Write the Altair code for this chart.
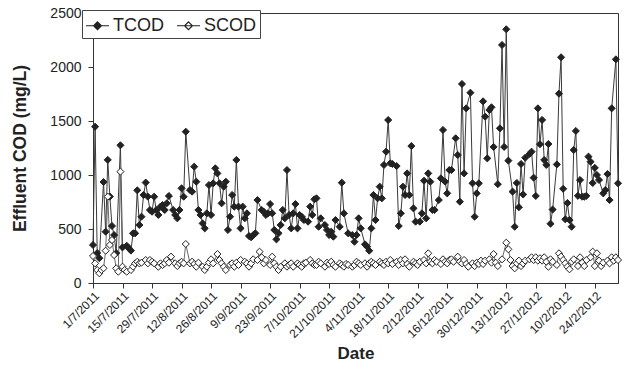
import altair as alt
import pandas as pd

start_date = "2011-07-01"

tcod_day = [0, 1, 2, 3, 5, 6, 7, 8, 9, 10, 11, 13, 14, 16, 17, 18, 19, 20, 21, 22, 23, 24, 25, 26, 27, 28,
            29, 30, 31, 32, 33, 34, 35, 36, 38, 39, 40, 41, 42, 43, 44, 46, 47, 48, 49, 50, 51, 52, 53, 54,
            55, 56, 57, 58, 59, 60, 61, 62, 63, 64, 65, 66, 67, 68, 69, 70, 71, 72, 73, 74, 75, 76, 77, 78,
            80, 81, 82, 83, 84, 85, 86, 87, 88, 89, 90, 91, 92, 93, 94, 95, 96, 97, 98, 99, 100, 102, 103,
            104, 105, 106, 107, 108, 110, 111, 112, 113, 114, 115, 117, 118, 119, 121, 123, 124, 125, 126,
            127, 129, 130, 131, 132, 133, 134, 135, 136, 137, 138, 139, 140, 141, 142, 144, 145, 146, 147,
            148, 149, 150, 151, 152, 153, 155, 156, 157, 158, 159, 160, 161, 162, 164, 165, 166, 167, 168,
            169, 170, 172, 173, 174, 175, 176, 177, 179, 180, 181, 182, 183, 185, 186, 187, 188, 189, 190,
            192, 193, 194, 195, 196, 197, 199, 200, 201, 202, 203, 204, 205, 207, 208, 209, 210, 211, 212,
            213, 214, 215, 216, 217, 218, 220, 221, 222, 223, 224, 225, 226, 227, 228, 229, 230, 231, 232,
            233, 234, 235, 236, 237, 238, 239, 240, 242, 243, 244, 245, 246, 248, 249]
tcod_val = [352, 1447, 277, 230, 935, 475, 1140, 800, 528, 444, 277, 1275, 330, 345, 321, 300, 460, 460, 858, 537, 614, 815, 930, 800, 676, 660,
            799, 676, 630, 707, 722, 676, 738, 806, 676, 630, 599, 676, 877, 799, 1401, 861, 846, 1077, 938, 676, 630, 552, 506, 645,
            907, 630, 923, 1062, 1015, 923, 738, 892, 938, 491, 614, 815, 707, 1139, 707, 506, 707, 599, 645, 435, 423, 444, 460, 768,
            676, 660, 630, 645, 731, 645, 491, 404, 460, 537, 676, 599, 1046, 630, 506, 645, 731, 506, 630, 614, 583, 568, 707,
            630, 775, 784, 521, 599, 537, 491, 444, 475, 429, 583, 521, 929, 645, 460, 444, 382, 444, 599,
            506, 358, 336, 299, 506, 815, 583, 784, 892, 784, 1093, 1216, 1509, 1108, 1102, 1083, 528, 645, 892,
            815, 1015, 815, 1268, 691, 568, 568, 645, 947, 599, 1015, 938, 676, 676, 768, 969, 1417, 938, 830,
            1046, 1046, 1340, 1185, 753, 1843, 1015, 1617, 1762, 923, 614, 830, 923, 1682, 1540, 1154, 1602, 1627, 1260,
            915, 1432, 2204, 1260, 2349, 1133, 846, 521, 926, 702, 1102, 820, 1160, 1194, 1216, 975, 806, 1617, 1285,
            1510, 1139, 1093, 1287, 549, 680, 1098, 1753, 2090, 872, 590, 741, 583, 521, 1231, 1408, 807, 954, 799,
            799, 807, 1170, 1123, 926, 1066, 1000, 954, 830, 861, 1009, 768, 1617, 2071, 923]

scod_day = [0, 1, 2, 3, 4, 5, 6, 7, 8, 9, 10, 11, 12, 13, 14, 15, 16, 18, 19, 20, 21, 22, 23, 25, 26, 27, 28,
            29, 31, 32, 33, 34, 35, 36, 37, 39, 40, 41, 42, 43, 44, 46, 47, 48, 49, 50, 52, 53, 54, 55, 56,
            57, 59, 60, 61, 62, 63, 65, 66, 67, 68, 69, 70, 72, 73, 74, 75, 76, 78, 79, 80, 81, 82, 84, 85,
            86, 87, 88, 89, 91, 92, 93, 94, 95, 97, 98, 99, 100, 101, 103, 104, 105, 106, 107, 108, 110, 111,
            112, 113, 114, 115, 117, 118, 119, 120, 121, 123, 124, 125, 126, 127, 129, 130, 131, 132, 133, 134,
            136, 137, 138, 139, 140, 141, 142, 144, 145, 146, 147, 148, 149, 150, 152, 153, 154, 155, 157, 158,
            159, 160, 161, 162, 163, 165, 166, 167, 168, 169, 170, 171, 173, 174, 175, 176, 177, 178, 180, 181,
            182, 183, 184, 185, 186, 188, 189, 190, 191, 192, 194, 196, 197, 198, 199, 200, 201, 202, 203, 204,
            205, 207, 208, 209, 210, 211, 212, 213, 214, 215, 216, 217, 218, 220, 221, 222, 223, 224, 225, 226,
            227, 228, 230, 231, 232, 233, 234, 236, 237, 238, 239, 240, 241, 242, 244, 245, 246, 247, 248, 249]
scod_val = [250, 182, 120, 90, 120, 136, 299, 800, 352, 398, 259, 136, 105, 1031, 151, 120, 105, 120, 151, 182, 197, 182, 188, 213, 182, 213, 197,
            182, 151, 182, 167, 182, 213, 188, 244, 182, 157, 182, 197, 182, 361, 182, 197, 176, 151, 188, 151, 120, 151, 188, 219,
            182, 268, 213, 182, 151, 120, 167, 182, 151, 188, 167, 213, 197, 182, 151, 182, 219, 213, 290, 238, 182, 213, 167, 244,
            182, 151, 120, 151, 182, 151, 167, 182, 151, 182, 167, 151, 182, 188, 213, 182, 167, 167, 197, 182, 151, 188,
            176, 197, 167, 151, 182, 167, 151, 176, 167, 151, 167, 197, 182, 167, 182, 151, 182, 197, 182, 167,
            197, 182, 167, 197, 182, 213, 176, 197, 167, 213, 182, 219, 176, 151, 197, 182, 167, 197, 213, 182,
            275, 197, 182, 213, 197, 176, 219, 197, 182, 213, 219, 197, 244, 197, 182, 213, 176, 151, 182, 157,
            188, 176, 207, 176, 207, 219, 188, 268, 188, 157, 219, 373, 312, 213, 157, 136, 182, 207, 157, 182,
            207, 219, 238, 213, 238, 207, 229, 207, 238, 197, 151, 219, 197, 167, 275, 244, 213, 182, 151, 127,
            197, 219, 157, 238, 188, 157, 213, 238, 290, 157, 275, 207, 157, 188, 207, 182, 238, 207, 238, 213]

series_names = ["TCOD", "SCOD"]
tick_dates = ["2011-07-01", "2011-07-15", "2011-07-29", "2011-08-12", "2011-08-26", "2011-09-09",
              "2011-09-23", "2011-10-07", "2011-10-21", "2011-11-04", "2011-11-18", "2011-12-02",
              "2011-12-16", "2011-12-30", "2012-01-13", "2012-01-27", "2012-02-10", "2012-02-24"]
domain_dates = ["2011-07-01", "2012-03-06"]
y_ticks = [0, 500, 1000, 1500, 2000, 2500]

t0 = pd.Timestamp(start_date)


def frame(days, vals, name, order):
    return pd.DataFrame({
        "date": [(t0 + pd.Timedelta(days=d)).strftime("%Y-%m-%d") for d in days],
        "value": vals,
        "series": name,
        "order": order,
    })


df = pd.concat([frame(tcod_day, tcod_val, "TCOD", 0), frame(scod_day, scod_val, "SCOD", 1)],
               ignore_index=True)


def dt(s):
    t = pd.Timestamp(s)
    return alt.DateTime(year=t.year, month=t.month, date=t.day, utc=True)


FONT = "Liberation Sans"
INK = "#222222"

x_enc = alt.X(
    "date:T",
    scale=alt.Scale(type="utc", domain=[dt(d) for d in domain_dates]),
    axis=alt.Axis(
        values=[dt(d) for d in tick_dates],
        labelExpr="utcFormat(datum.value, '%-d/%-m/%Y')",
        labelAngle=-45,
        labelAlign="right",
        labelBaseline="top",
        labelFontSize=12,
        labelPadding=2,
        tickSize=5,
        title="Date",
        titleFontSize=17,
        titleFontWeight="bold",
        titlePadding=6,
        grid=False,
        labelOverlap=False,
    ),
)
y_enc = alt.Y(
    "value:Q",
    scale=alt.Scale(domain=[0, 2500], nice=False),
    axis=alt.Axis(
        values=y_ticks,
        format="d",
        labelFontSize=14,
        tickSize=5,
        labelPadding=7,
        title="Effluent COD (mg/L)",
        titleFontSize=17.5,
        titleFontWeight="bold",
        titlePadding=20,
        grid=False,
    ),
)

base = alt.Chart(df)

line_t = base.transform_filter(alt.datum.series == "TCOD").mark_line(
    strokeWidth=1, color="#3a3a3a").encode(x=x_enc, y=y_enc)
line_s = base.transform_filter(alt.datum.series == "SCOD").mark_line(
    strokeWidth=1, color="#6a6a6a").encode(x=x_enc, y=y_enc)

legend_path = "M-1,0L1,0M0,-0.34L0.34,0L0,0.34L-0.34,0Z"

points = base.mark_point(
    shape="diamond", filled=True, size=50, stroke=INK, strokeWidth=1, opacity=1
).encode(
    x=x_enc,
    y=y_enc,
    fill=alt.Fill(
        "series:N",
        scale=alt.Scale(domain=series_names, range=[INK, "#ffffff"]),
        legend=alt.Legend(
            title=None,
            orient="none",
            legendX=-11,
            legendY=-3,
            direction="horizontal",
            symbolType=legend_path,
            symbolSize=529,
            symbolStrokeWidth=1.2,
            symbolStrokeColor=INK,
            labelFontSize=18,
            labelFont=FONT,
            labelColor=INK,
            labelOffset=3,
            columnPadding=10,
            padding=3,
            strokeColor="#444444",
            fillColor="#ffffff",
        ),
    ),
    order=alt.Order("order:Q"),
)

chart = alt.layer(line_t, line_s, points).properties(
    width=525,
    height=270,
    autosize=alt.AutoSizeParams(type="none"),
    padding={"left": 85, "top": 5, "right": 5, "bottom": 85},
).configure(
    font=FONT,
).configure_view(
    stroke="#333333",
    strokeWidth=1,
).configure_axis(
    labelFont=FONT,
    titleFont=FONT,
    labelColor=INK,
    titleColor=INK,
    domainColor="#333333",
    tickColor="#333333",
)

chart.save("out.html", embed_options={"renderer": "svg", "actions": False})
